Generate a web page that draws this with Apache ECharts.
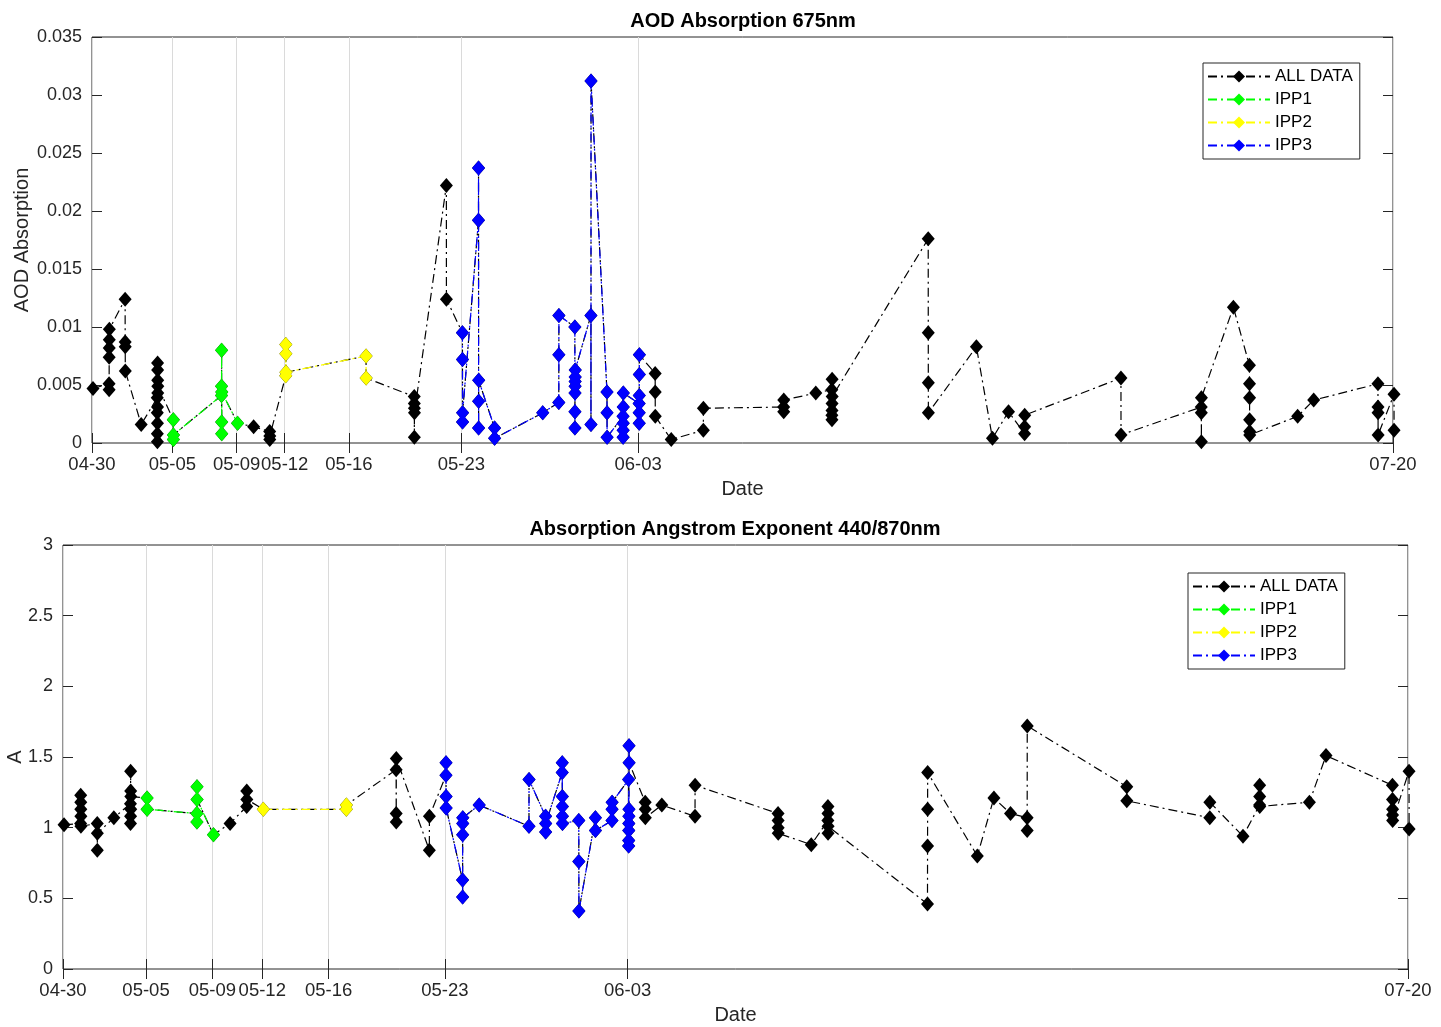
<!DOCTYPE html>
<html>
<head>
<meta charset="utf-8">
<title>AOD Absorption / Angstrom Exponent</title>
<script src="https://cdn.jsdelivr.net/npm/echarts@6/dist/echarts.min.js"></script>
<style>
  html, body { margin: 0; padding: 0; background: #fff; }
  #chart { width: 1441px; height: 1027px; }
</style>
</head>
<body>
<div id="chart"></div>
<script>
const year = 2019

// measurement days (MM-DD); each row in the value lists belongs to one day
const dates = [
  '04-30', '05-01', '05-02', '05-03', '05-04', '05-05', '05-08', '05-09', '05-10', '05-11',
  '05-12', '05-17', '05-20', '05-22', '05-23', '05-24', '05-25', '05-28', '05-29', '05-30',
  '05-31', '06-01', '06-02', '06-03', '06-04', '06-05', '06-07', '06-12', '06-14', '06-15',
  '06-21', '06-24', '06-25', '06-26', '06-27', '07-03', '07-08', '07-10', '07-11', '07-14',
  '07-15', '07-19', '07-20'
]

const aodAbsorption = [
  [0.0047],
  [0.0051, 0.0046, 0.0074, 0.0082, 0.0089, 0.0098],
  [0.0124, 0.0087, 0.0083, 0.0062],
  [0.0016],
  [0.0039, 0.0026, 0.0008, 0.0001, 0.0017, 0.0031, 0.0069, 0.0063, 0.0054, 0.0043, 0.0049],
  [0.0020, 0.0003, 0.0007],
  [0.0041, 0.0049, 0.0080, 0.0018, 0.0008, 0.0044],
  [0.0017],
  [0.0014],
  [0.0010, 0.0003, 0.0006],
  [0.0058, 0.0085, 0.0077, 0.0061],
  [0.0075, 0.0056],
  [0.0040, 0.0034, 0.0005, 0.0030, 0.0026],
  [0.0222, 0.0124],
  [0.0095, 0.0072, 0.0018, 0.0026],
  [0.0192, 0.0237, 0.0013, 0.0036, 0.0054],
  [0.0013, 0.0004],
  [0.0026],
  [0.0035, 0.0076, 0.0110],
  [0.0100, 0.0013, 0.0027, 0.0043, 0.0049, 0.0053, 0.0057, 0.0063],
  [0.0110, 0.0016, 0.0312],
  [0.0044, 0.0026, 0.0005],
  [0.0023, 0.0005, 0.0011, 0.0017, 0.0031, 0.0043],
  [0.0034, 0.0026, 0.0017, 0.0041, 0.0059, 0.0076],
  [0.0060, 0.0044, 0.0023],
  [0.0003],
  [0.0011, 0.0030],
  [0.0031, 0.0027, 0.0037],
  [0.0043],
  [0.0046, 0.0024, 0.0020, 0.0028, 0.0034, 0.0055, 0.0040],
  [0.0176, 0.0095, 0.0052, 0.0026],
  [0.0083],
  [0.0004],
  [0.0027],
  [0.0008, 0.0014, 0.0024],
  [0.0056, 0.0007],
  [0.0031, 0.0026, 0.0001, 0.0039],
  [0.0117],
  [0.0067, 0.0051, 0.0039, 0.0020, 0.0010, 0.0007],
  [0.0023],
  [0.0037],
  [0.0051, 0.0031, 0.0026, 0.0007],
  [0.0042, 0.0011]
]

const angstrom = [
  [1.02],
  [1.03, 1.23, 1.18, 1.13, 1.08, 1.01],
  [1.03, 0.84, 0.96],
  [1.07],
  [1.17, 1.03, 1.08, 1.40, 1.26, 1.13, 1.22],
  [1.21, 1.13],
  [1.10, 1.04, 1.29, 1.20],
  [0.95],
  [1.03],
  [1.15, 1.26, 1.20],
  [1.13],
  [1.13, 1.16],
  [1.41, 1.10, 1.04, 1.49],
  [0.84, 1.08],
  [1.37, 1.46, 1.22, 1.14],
  [0.63, 0.51, 0.95, 1.03, 1.07],
  [1.16],
  [1.01, 1.34],
  [1.08, 0.97, 1.03],
  [1.39, 1.46, 1.22, 1.15, 1.08, 1.03],
  [1.05, 0.76, 0.41],
  [1.07, 0.98],
  [1.05, 1.13, 1.18],
  [1.34, 0.87, 0.91, 0.98, 1.03, 1.08, 1.13, 1.58, 1.46],
  [1.18, 1.13, 1.07],
  [1.16],
  [1.08, 1.30],
  [1.10, 1.05, 1.00, 0.96],
  [0.88],
  [1.05, 1.15, 1.10, 0.96, 1.01],
  [0.46, 0.87, 1.13, 1.39],
  [0.80],
  [1.21],
  [1.10],
  [1.07, 0.98, 1.72],
  [1.29, 1.19],
  [1.07, 1.18],
  [0.94],
  [1.16, 1.30, 1.22, 1.15],
  [1.18],
  [1.51],
  [1.30, 1.20, 1.09, 1.13, 1.05],
  [1.40, 0.99]
]

const tickDates = ['04-30', '05-05', '05-09', '05-12', '05-16', '05-23', '06-03', '07-20']

// IPP periods (first and last day)
const periods = [
  { name: 'IPP1', from: '05-05', to: '05-09', color: '#00ff00' },
  { name: 'IPP2', from: '05-12', to: '05-17', color: '#ffff00' },
  { name: 'IPP3', from: '05-23', to: '06-03', color: '#0000ff' }
]

const font = "'Liberation Sans', Arial, sans-serif"
const axisColor = '#262626'

function toTime(md, minutes) {
  const [m, d] = md.split('-').map(Number)
  return new Date(year, m - 1, d, 0, minutes).getTime()
}

function fmtDate(v) {
  const d = new Date(v)
  const p = n => (n < 10 ? '0' : '') + n
  return p(d.getMonth() + 1) + '-' + p(d.getDate())
}

// one point per measurement, a few minutes apart within the day
function buildPoints(values) {
  const pts = []
  dates.forEach((md, i) => {
    values[i].forEach((v, j) => pts.push({ md, value: [toTime(md, 90 + j * 5), v] }))
  })
  return pts
}

const ticks = tickDates.map(md => toTime(md, 0))

function xAxes(g) {
  const base = {
    type: 'value', gridIndex: g, scale: true,
    min: toTime('04-30', 0), max: toTime('07-20', 0),
    axisLine: { show: false },
    axisTick: { show: true, inside: true, length: 10, customValues: ticks, lineStyle: { color: axisColor } }
  }
  return [
    Object.assign({}, base, {
      position: 'bottom',
      name: 'Date', nameLocation: 'middle', nameGap: 36, nameMoveOverlap: false,
      nameTextStyle: { fontSize: 20, color: axisColor, fontFamily: font },
      axisLabel: { customValues: ticks, formatter: fmtDate, fontSize: 18.5, color: axisColor, fontFamily: font, margin: 12, hideOverlap: false },
      splitLine: { show: true, lineStyle: { color: '#dadada', width: 1 } }
    }),
    Object.assign({}, base, {
      position: 'top',
      axisLabel: { show: false },
      splitLine: { show: false }
    })
  ]
}

function yAxes(g, max, interval, name, nameGap) {
  const base = {
    type: 'value', gridIndex: g, min: 0, max, interval,
    axisLine: { show: false },
    axisTick: { show: true, inside: true, length: 10, lineStyle: { color: axisColor } },
    splitLine: { show: false }
  }
  return [
    Object.assign({}, base, {
      position: 'left',
      name, nameLocation: 'middle', nameGap, nameMoveOverlap: false,
      nameTextStyle: { fontSize: 20, color: axisColor, fontFamily: font },
      axisLabel: { fontSize: 18, color: axisColor, fontFamily: font, margin: 10 }
    }),
    Object.assign({}, base, { position: 'right', axisLabel: { show: false } })
  ]
}

function lineSeries(name, color, data, g) {
  return {
    name, type: 'line', data,
    xAxisIndex: g * 2, yAxisIndex: g * 2,
    symbol: 'diamond', symbolSize: [13, 15],
    itemStyle: { color },
    lineStyle: { color, width: 1.2, type: [9, 4, 2, 4] },
    clip: false,
    emphasis: { disabled: true }
  }
}

function plotSeries(values, g) {
  const pts = buildPoints(values)
  const list = [lineSeries('ALL DATA', '#000000', pts.map(p => p.value), g)]
  periods.forEach(pr => {
    const sub = pts.filter(p => p.md >= pr.from && p.md <= pr.to)
    list.push(lineSeries(pr.name, pr.color, sub.map(p => p.value), g))
  })
  return list
}

function legendAt(left, top) {
  return {
    data: ['ALL DATA', 'IPP1', 'IPP2', 'IPP3'],
    orient: 'vertical', left, top,
    itemWidth: 62, itemHeight: 15, itemGap: 6, itemTextGap: 6,
    padding: [5, 7, 5, 4],
    borderColor: axisColor, borderWidth: 1, backgroundColor: '#fff',
    textStyle: { fontSize: 17, color: '#000', fontFamily: font, lineHeight: 14 },
    selectedMode: false
  }
}

const titleStyle = { fontSize: 20, fontWeight: 'bold', color: '#000', fontFamily: font }

const chart = echarts.init(document.getElementById('chart'), null, { renderer: 'canvas' })
chart.setOption({
  animation: false,
  backgroundColor: '#fff',
  title: [
    { text: 'AOD Absorption 675nm', left: 743, top: 11, textAlign: 'center', padding: 0, textStyle: titleStyle },
    { text: 'Absorption Angstrom Exponent 440/870nm', left: 735, top: 519, textAlign: 'center', padding: 0, textStyle: titleStyle }
  ],
  legend: [legendAt(1203, 63), legendAt(1188, 573)],
  grid: [
    { left: 92, top: 37, width: 1301, height: 406, show: true, borderColor: axisColor, borderWidth: 1, backgroundColor: '#fff', outerBoundsMode: 'none' },
    { left: 63, top: 545, width: 1345, height: 424, show: true, borderColor: axisColor, borderWidth: 1, backgroundColor: '#fff', outerBoundsMode: 'none' }
  ],
  xAxis: xAxes(0).concat(xAxes(1)),
  yAxis: yAxes(0, 0.035, 0.005, 'AOD Absorption', 60).concat(yAxes(1, 3, 0.5, 'A', 38)),
  series: plotSeries(aodAbsorption, 0).concat(plotSeries(angstrom, 1))
})
</script>
</body>
</html>
